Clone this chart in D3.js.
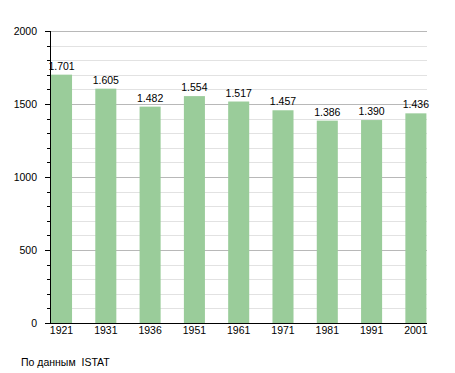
<!DOCTYPE html>
<html>
<head>
<meta charset="utf-8">
<script src="https://cdn.jsdelivr.net/npm/d3@7"></script>
<style>
  body { margin: 0; background: #fff; }
  text { font-family: "Liberation Sans", Arial, sans-serif; }
</style>
</head>
<body>
<script>
// data
let years = ['1921', '1931', '1936', '1951', '1961', '1971', '1981', '1991', '2001']
let population = [1701, 1605, 1482, 1554, 1517, 1457, 1386, 1390, 1436]
let valueLabels = ['1.701', '1.605', '1.482', '1.554', '1.517', '1.457', '1.386', '1.390', '1.436']
let majorTicks = [0, 500, 1000, 1500, 2000]
let minorTicks = d3.range(0, 2001, 100)

let svg = d3.select('body')
    .append('svg')
    .attr('width', 455)
    .attr('height', 373)

let plotLeft = 50, plotRight = 427, plotTop = 31, plotBottom = 323

let x = d3.scaleBand()
    .domain(years)
    .range([plotLeft + 1, plotRight - 0.6])
    .paddingInner(0.525)
    .paddingOuter(0)

let y = d3.scaleLinear()
    .domain([0, 2000])
    .range([plotBottom, plotTop])

// minor grid
svg.append('g')
    .selectAll('line')
    .data(minorTicks.filter(d => d % 500 !== 0))
    .join('line')
    .attr('x1', plotLeft)
    .attr('x2', plotRight)
    .attr('y1', d => Math.round(y(d)) + 0.5)
    .attr('y2', d => Math.round(y(d)) + 0.5)
    .style('stroke', '#e2e2e2')

// major grid
svg.append('g')
    .selectAll('line')
    .data(majorTicks.filter(d => d > 0))
    .join('line')
    .attr('x1', plotLeft)
    .attr('x2', plotRight)
    .attr('y1', d => Math.round(y(d)) + 0.5)
    .attr('y2', d => Math.round(y(d)) + 0.5)
    .style('stroke', '#b8b8b8')

// bars
svg.append('g')
    .selectAll('rect')
    .data(population)
    .join('rect')
    .attr('x', (d, i) => x(years[i]))
    .attr('y', d => y(d))
    .attr('width', x.bandwidth())
    .attr('height', d => plotBottom - y(d))
    .style('fill', '#9acc9a')

// value labels
svg.append('g')
    .selectAll('text')
    .data(population)
    .join('text')
    .attr('x', (d, i) => x(years[i]) + x.bandwidth() / 2)
    .attr('y', d => y(d) - 5)
    .attr('text-anchor', 'middle')
    .style('font-size', '10.5px')
    .style('fill', '#000')
    .text((d, i) => valueLabels[i])

// y ticks
svg.append('g')
    .selectAll('line')
    .data(minorTicks)
    .join('line')
    .attr('x1', d => d % 500 === 0 ? plotLeft - 5 : plotLeft - 3)
    .attr('x2', plotLeft)
    .attr('y1', d => Math.round(y(d)) + 0.5)
    .attr('y2', d => Math.round(y(d)) + 0.5)
    .style('stroke', '#000')

// y labels
svg.append('g')
    .selectAll('text')
    .data(majorTicks)
    .join('text')
    .attr('x', plotLeft - 13)
    .attr('y', d => y(d) + 4)
    .attr('text-anchor', 'end')
    .style('font-size', '10.5px')
    .text(d => d)

// axes lines
svg.append('line')
    .attr('x1', plotLeft + 0.5).attr('x2', plotLeft + 0.5)
    .attr('y1', plotTop).attr('y2', plotBottom + 1)
    .style('stroke', '#000')
svg.append('line')
    .attr('x1', plotLeft).attr('x2', plotRight)
    .attr('y1', plotBottom + 0.5).attr('y2', plotBottom + 0.5)
    .style('stroke', '#000')

// x labels
svg.append('g')
    .selectAll('text')
    .data(years)
    .join('text')
    .attr('x', d => x(d) + x.bandwidth() / 2)
    .attr('y', plotBottom + 11)
    .attr('text-anchor', 'middle')
    .style('font-size', '10.5px')
    .text(d => d)

// source
svg.append('text')
    .attr('x', 21)
    .attr('y', 366)
    .style('font-size', '10.5px')
    .style('white-space', 'pre')
    .text('По данным  ISTAT')
</script>
</body>
</html>
